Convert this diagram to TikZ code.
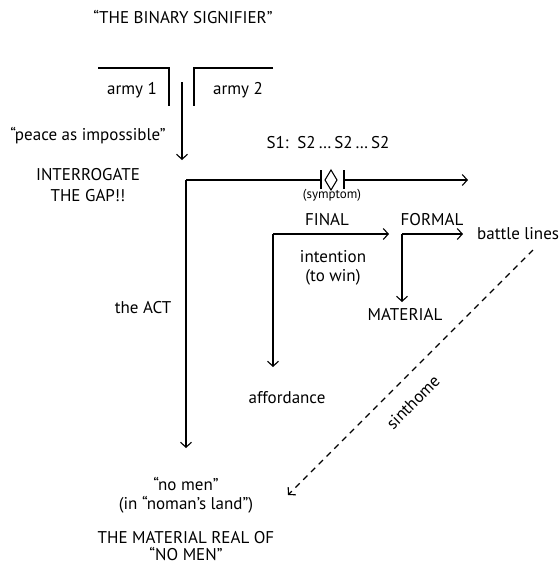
\documentclass[tikz,border=0pt]{standalone}
\usepackage{fontspec}
\setmainfont{PT Sans}
\usetikzlibrary{arrows.meta}
\begin{document}
\begin{tikzpicture}[x=1pt,y=-1pt,
  txt/.style={inner sep=0pt,font=\fontsize{17}{19}\selectfont,align=center},
  small/.style={inner sep=0pt,font=\fontsize{13}{13}\selectfont},
  ln/.style={line width=1.1pt},
  arr/.style={ln,-{Straight Barb[length=5pt,width=11pt,line width=1.1pt]}},
  dasharr/.style={line width=1.1pt,dash pattern=on 6pt off 5pt,-{Straight Barb[length=5pt,width=11pt,line width=1.1pt]}}]
\useasboundingbox (0,0) rectangle (558,566);
% texts
\node[txt] (title) at (183,17) {“THE BINARY SIGNIFIER”};
\node[txt] (army1) at (132,90) {army 1};
\node[txt] (army2) at (238,90) {army 2};
\node[txt] (peace) at (88,136) {“peace as impossible”};
\node[txt,font=\fontsize{17}{21.5}\selectfont] (gap) at (88,185) {INTERROGATE\\THE GAP!!};
\node[txt] (s1) at (328,143) {S1:\, S2\,…\,S2\,…\,S2};
\node[small] (symlabel) at (332,195) {(symptom)};
\node[txt] (final) at (327,220) {FINAL};
\node[txt] (formal) at (432,220) {FORMAL};
\node[txt,font=\fontsize{17}{19.5}\selectfont] (intention) at (333,268) {intention\\(to win)};
\node[txt,anchor=west] (battle) at (477,234) {battle lines};
\node[txt] (material) at (405,314) {MATERIAL};
\node[txt] (affordance) at (287,398) {affordance};
\node[txt] (act) at (143,308) {the ACT};
\node[txt,font=\fontsize{17}{19}\selectfont] (nomen) at (186,495) {“no men”\\(in “noman’s land”)};
\node[txt,font=\fontsize{17}{17}\selectfont] (real) at (186,546) {THE MATERIAL REAL OF\\“NO MEN”};
\node[txt,rotate=45] (sinthome) at (413,402) {sinthome};
% army brackets
\draw[ln] (98,68) -- (169,68) -- (169,106);
\draw[ln] (273,68) -- (194,68) -- (194,106);
\coordinate (gapTop) at (182,82);
\coordinate (gapBot) at (182,160);
\draw[arr] (gapTop) -- (gapBot);
% main L
\coordinate (corner) at (186,180);
\coordinate (actEnd) at (186,448);
\coordinate (symL) at (321,180);
\coordinate (symR) at (344,180);
\coordinate (mainEnd) at (468,180);
\draw[ln] (symL) -- (corner);
\draw[arr] (corner) -- (actEnd);
\draw[arr] (symR) -- (mainEnd);
% symptom
\draw[ln] (321,170) -- (321,189);
\draw[ln] (344,170) -- (344,189);
\draw[ln] (331,170) -- (337,180) -- (331,190) -- (325,180) -- cycle;
% second L
\coordinate (c2) at (273,234);
\coordinate (finalEnd) at (389,234);
\coordinate (affEnd) at (273,367);
\draw[arr] (c2) -- (finalEnd);
\draw[arr] (c2) -- (affEnd);
% third L
\coordinate (c3) at (402,234);
\coordinate (formalEnd) at (463,234);
\coordinate (matEnd) at (402,302);
\draw[arr] (c3) -- (formalEnd);
\draw[arr] (c3) -- (matEnd);
% sinthome dashed
\coordinate (dStart) at (533,250);
\coordinate (dEnd) at (288,495);
\draw[dasharr] (dStart) -- (dEnd);
\end{tikzpicture}
\end{document}
